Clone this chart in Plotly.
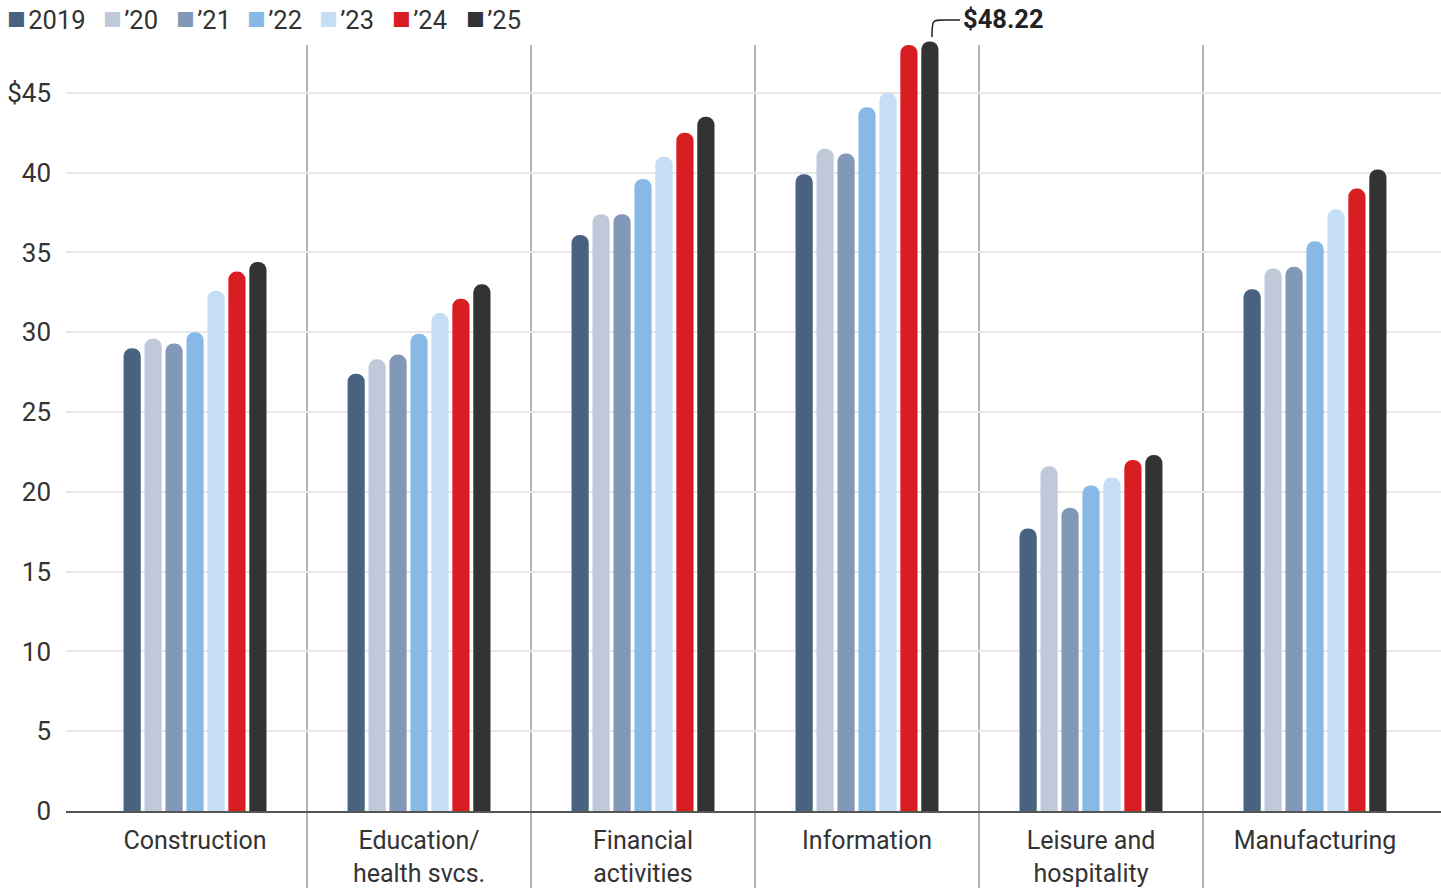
import plotly.graph_objects as go

categories = ["Construction", "Education/<br>health svcs.", "Financial<br>activities",
              "Information", "Leisure and<br>hospitality", "Manufacturing"]
series_names = ["2019", "’20", "’21", "’22", "’23", "’24", "’25"]
colors = ["#4a6282", "#bfc9da", "#8198b8", "#88b9e6", "#c6def4", "#d81e23", "#333333"]

y2019 = [29.0, 27.4, 36.1, 39.9, 17.7, 32.7]
y2020 = [29.6, 28.3, 37.4, 41.5, 21.6, 34.0]
y2021 = [29.3, 28.6, 37.4, 41.2, 19.0, 34.1]
y2022 = [30.0, 29.9, 39.6, 44.1, 20.4, 35.7]
y2023 = [32.6, 31.2, 41.0, 45.0, 20.9, 37.7]
y2024 = [33.8, 32.1, 42.5, 48.0, 22.0, 39.0]
y2025 = [34.4, 33.0, 43.5, 48.22, 22.3, 40.2]
series_values = [y2019, y2020, y2021, y2022, y2023, y2024, y2025]

tick_vals = [0, 5, 10, 15, 20, 25, 30, 35, 40, 45]
tick_text = ["0", "5", "10", "15", "20", "25", "30", "35", "40", "$45"]

FONT = "Roboto, 'Noto Sans', sans-serif"

fig = go.Figure()
for name, vals, col in zip(series_names, series_values, colors):
    fig.add_trace(go.Bar(
        x=categories, y=vals, name=name,
        marker=dict(color=col, line=dict(width=0), cornerradius="50%"),
        showlegend=False,
    ))

W, H = 1441, 888
L, R, T, B = 66, 0, 37, 77
pw, ph = W - L - R, H - T - B
base_y = H - B  # baseline pixel (811)

def px(xp):
    return (xp - L) / pw

def py(yp):
    return (base_y - yp) / ph

shapes = []
for i in range(len(categories) - 1):
    shapes.append(dict(type="line", xref="x", yref="paper",
                       x0=i + 0.5, x1=i + 0.5, y0=py(900), y1=py(45),
                       line=dict(color="#b5b5b5", width=2), layer="below"))

x0, y0 = px(932), py(37)
x1, y1 = px(944), py(20)
x2 = px(960)
shapes.append(dict(type="path", xref="paper", yref="paper",
                   path=f"M {x0},{y0} C {x0},{y1} {x0},{y1} {x1},{y1} L {x2},{y1}",
                   line=dict(color="#222222", width=1.5)))

annotations = [dict(xref="paper", yref="paper", x=px(961), y=py(19),
                    xanchor="left", yanchor="middle", showarrow=False,
                    text="<b>$48.22</b>", font=dict(family=FONT, size=25.5, color="#222222"))]

leg_x = [8, 104, 177, 248, 320, 393, 467]
for name, col, lx in zip(series_names, colors, leg_x):
    annotations.append(dict(
        xref="paper", yref="paper", x=px(lx - 3), y=py(19),
        xanchor="left", yanchor="middle", showarrow=False,
        text=(f"<span style='color:{col};font-size:31px'>■</span>"
              f"<span style='font-size:10px'> </span>{name}"),
        font=dict(family=FONT, size=25.5, color="#333333")))

fig.update_layout(
    width=W, height=H,
    margin=dict(l=L, r=R, t=T, b=B),
    paper_bgcolor="white", plot_bgcolor="white",
    barmode="group", bargap=0.345, bargroupgap=0.18,
    font=dict(family=FONT, size=26, color="#333333"),
    shapes=shapes, annotations=annotations,
    xaxis=dict(range=[-0.576, 5.5625], showgrid=False, showline=True,
               linecolor="#555555", linewidth=2, ticks="",
               ticklabelstandoff=6, automargin=False,
               tickfont=dict(family=FONT, size=25, color="#333333"),
               fixedrange=True),
    yaxis=dict(range=[0, 48.5], tickvals=tick_vals, ticktext=tick_text,
               showgrid=True, gridcolor="#e8e8e8", gridwidth=1.5,
               zeroline=False, showline=False, ticks="",
               ticklabelstandoff=14, automargin=False,
               tickfont=dict(family=FONT, size=26, color="#333333"),
               fixedrange=True),
)

fig.write_html("out.html", config={"displayModeBar": False},
               post_script="document.body.style.margin='0';document.body.style.overflow='hidden';")
